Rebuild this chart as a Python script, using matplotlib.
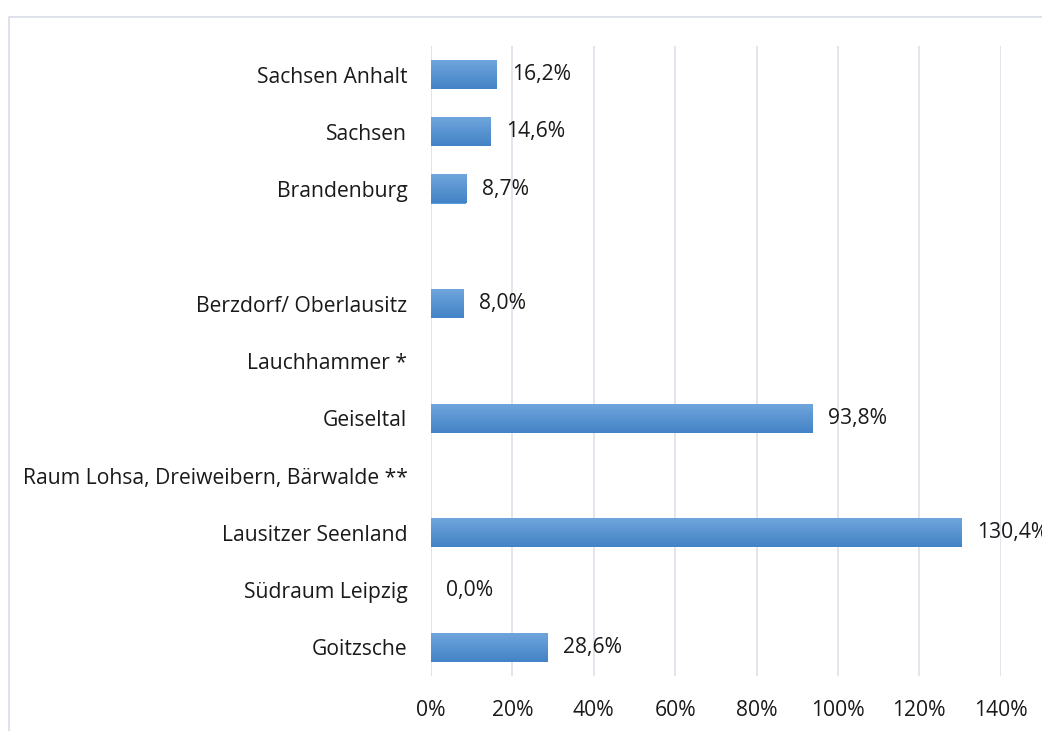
import numpy as np
import matplotlib
matplotlib.use("Agg")
import matplotlib.pyplot as plt
from matplotlib.patches import Rectangle
from matplotlib.colors import LinearSegmentedColormap

plt.rcParams['font.family'] = ['Open Sans', 'DejaVu Sans']
FS = 15.2

# bottom to top, as drawn
categories = ["Goitzsche", "Südraum Leipzig", "Lausitzer Seenland",
              "Raum Lohsa, Dreiweibern, Bärwalde **", "Geiseltal", "Lauchhammer *",
              "Berzdorf/ Oberlausitz", "", "Brandenburg", "Sachsen", "Sachsen Anhalt"]
values = [28.6, 0.0, 130.4, np.nan, 93.8, np.nan, 8.0, np.nan, 8.7, 14.6, 16.2]
xticks = [0, 20, 40, 60, 80, 100, 120, 140]

fig = plt.figure(figsize=(10.42, 7.31), dpi=100)
ax = fig.add_axes([431 / 1042, 1 - 676 / 731, (1000.7 - 431) / 1042, (676 - 46) / 731])

# chart border (cut off at right and bottom like the reference)
fig.add_artist(Rectangle((8.5 / 1042, -0.2), 1.3, 1.2 - 16.5 / 731, transform=fig.transFigure,
                         fill=False, edgecolor="#d9dde6", linewidth=1.2, clip_on=False))

y = np.arange(len(categories))
bars = ax.barh(y, np.nan_to_num(values), height=0.5, color="#5b9bd5", edgecolor="none", zorder=2)

# light on top, darker at the bottom
grad = LinearSegmentedColormap.from_list("g", ["#4383c6", "#6fa5dc"])
for b, v in zip(bars, values):
    if np.isnan(v) or v == 0:
        continue
    x0, y0 = b.get_x(), b.get_y()
    ax.imshow(np.linspace(0, 1, 50).reshape(-1, 1), cmap=grad, aspect="auto",
              extent=[x0, x0 + b.get_width(), y0, y0 + b.get_height()], origin="lower", zorder=3)

# value labels (the 130,4% one runs off the right edge, as in the original)
for yi, v in zip(y, values):
    if np.isnan(v):
        continue
    ax.annotate(f"{v:.1f}%".replace(".", ","), (v, yi), xytext=(11, 0), textcoords="offset points",
                ha="left", va="center", fontsize=FS, color="#1a1a1a", annotation_clip=False)

ax.set_xlim(0, 140)
ax.set_ylim(-0.5, len(categories) - 0.5)
ax.set_xticks(xticks)
ax.set_xticklabels([f"{t}%" for t in xticks])
ax.set_yticks(y)
ax.set_yticklabels(categories)
ax.tick_params(axis="both", length=0, labelsize=FS, colors="#1a1a1a")
ax.tick_params(axis="x", pad=17)
ax.tick_params(axis="y", pad=17)
ax.xaxis.grid(True, color="#dfe3ea", linewidth=1.3, zorder=0)
ax.set_axisbelow(True)
for s in ax.spines.values():
    s.set_visible(False)
ax.axvline(0, color="#dfe3ea", linewidth=1.3, zorder=1)

fig.savefig("out.png", dpi=100)
